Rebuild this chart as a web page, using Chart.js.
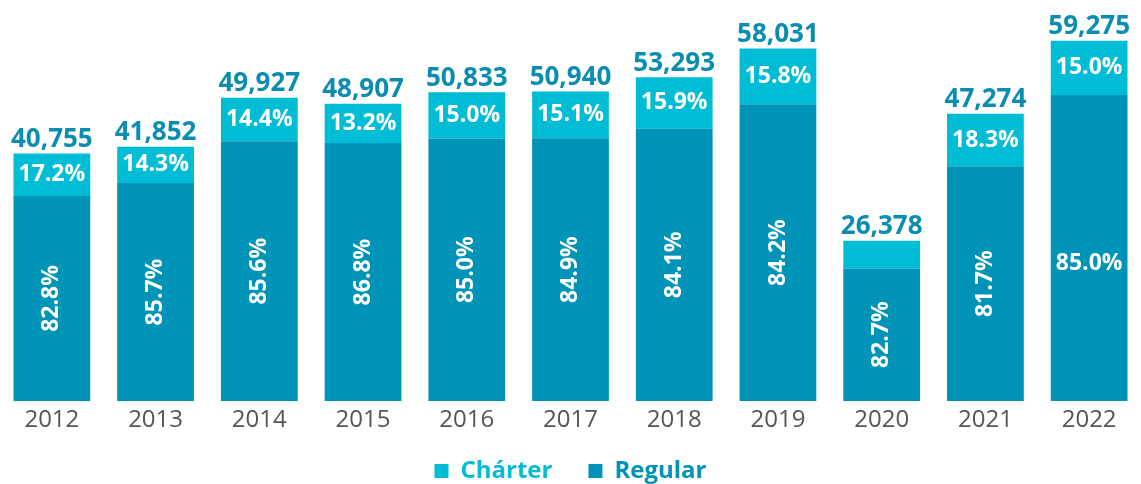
<!DOCTYPE html>
<html>
<head>
<meta charset="utf-8">
<script src="https://cdn.jsdelivr.net/npm/chart.js@4.4.0/dist/chart.umd.min.js"></script>
<style>
  html, body { margin: 0; padding: 0; background: #fff; }
  #wrap { width: 1141px; height: 484px; }
</style>
</head>
<body>
<div id="wrap"><canvas id="pasajeros"></canvas></div>
<script>
var years = ['2012', '2013', '2014', '2015', '2016', '2017', '2018', '2019', '2020', '2021', '2022'];
var totals = [40755, 41852, 49927, 48907, 50833, 50940, 53293, 58031, 26378, 47274, 59275];
var regularPct = [82.8, 85.7, 85.6, 86.8, 85.0, 84.9, 84.1, 84.2, 82.7, 81.7, 85.0];
var charterPct = [17.2, 14.3, 14.4, 13.2, 15.0, 15.1, 15.9, 15.8, null, 18.3, 15.0];

var colorRegular = '#0093b8';
var colorCharter = '#00bcd4';
var font = '"Open Sans", sans-serif';

// split each total into its two parts using the regular share
var regular = totals.map(function (t, i) { return t * regularPct[i] / 100; });
var charter = totals.map(function (t, i) { return t - regular[i]; });

var barLabels = {
    id: 'barLabels',
    afterDatasetsDraw: function (chart) {
        var ctx = chart.ctx;
        var regMeta = chart.getDatasetMeta(0);
        var chaMeta = chart.getDatasetMeta(1);
        ctx.save();
        ctx.textAlign = 'center';
        ctx.textBaseline = 'middle';
        years.forEach(function (y, i) {
            var r = regMeta.data[i];
            var c = chaMeta.data[i];

            // regular share, rotated except the last bar
            ctx.fillStyle = '#fff';
            ctx.font = 'bold 23px ' + font;
            var ry = (r.y + r.base) / 2;
            if (i === years.length - 1) {
                ctx.fillText(regularPct[i].toFixed(1) + '%', r.x, ry + 16);
            } else {
                ctx.save();
                ctx.translate(r.x, ry);
                ctx.rotate(-Math.PI / 2);
                ctx.fillText(regularPct[i].toFixed(1) + '%', 0, 0);
                ctx.restore();
            }

            // charter share
            if (charterPct[i] !== null) {
                ctx.fillText(charterPct[i].toFixed(1) + '%', c.x, (c.y + c.base) / 2);
            }

            // total on top
            ctx.fillStyle = '#0a8db0';
            ctx.font = 'bold 26px ' + font;
            ctx.textBaseline = 'bottom';
            ctx.fillText(totals[i].toLocaleString('en-US'), c.x, c.y - 1);
            ctx.textBaseline = 'middle';
        });
        ctx.restore();
    }
};

var ctx = document.getElementById('pasajeros').getContext('2d');
var chart = new Chart(ctx, {
    type: 'bar',
    data: {
        labels: years,
        datasets: [{
            label: 'Regular',
            data: regular,
            backgroundColor: colorRegular,
            barPercentage: 0.74,
            categoryPercentage: 1.0
        }, {
            label: 'Chárter',
            data: charter,
            backgroundColor: colorCharter,
            barPercentage: 0.74,
            categoryPercentage: 1.0
        }]
    },
    options: {
        responsive: true,
        maintainAspectRatio: false,
        animation: false,
        // legend sits a little lower than its own box allows
        layout: { padding: { top: 0, left: 0, right: 0, bottom: -9 } },
        scales: {
            x: {
                stacked: true,
                grid: { display: false, drawTicks: false },
                border: { display: false },
                ticks: {
                    color: '#555',
                    font: { family: font, size: 24 },
                    padding: 5
                },
                afterFit: function (scale) {
                    scale.height = 58;
                }
            },
            y: {
                stacked: true,
                display: false,
                min: 0,
                max: 66000
            }
        },
        plugins: {
            tooltip: { enabled: false },
            legend: {
                position: 'bottom',
                reverse: true,
                labels: {
                    boxWidth: 14,
                    boxHeight: 14,
                    padding: 0,
                    font: { family: font, size: 24, weight: 'bold' },
                    generateLabels: function (chart) {
                        return chart.data.datasets.map(function (ds, i) {
                            return {
                                // trailing spaces keep the two entries apart
                                text: i === 1 ? ds.label + '\u2003\u2002' : ds.label,
                                fillStyle: ds.backgroundColor,
                                strokeStyle: ds.backgroundColor,
                                lineWidth: 0,
                                fontColor: ds.backgroundColor,
                                datasetIndex: i
                            };
                        });
                    }
                }
            }
        }
    },
    plugins: [barLabels]
});
</script>
</body>
</html>
